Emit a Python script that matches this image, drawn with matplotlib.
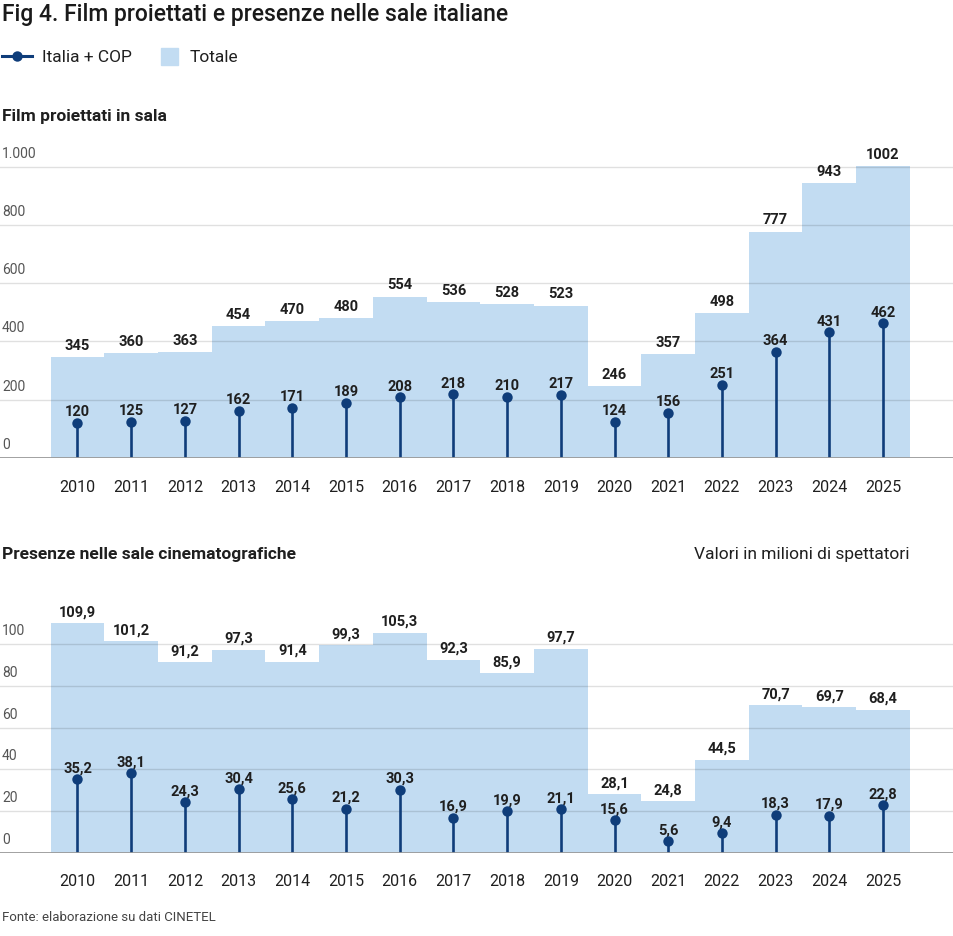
import matplotlib
matplotlib.use("Agg")
import matplotlib.pyplot as plt
from matplotlib.lines import Line2D
from matplotlib.patches import Rectangle

plt.rcParams['font.family'] = ['Roboto', 'DejaVu Sans']

years = ["2010", "2011", "2012", "2013", "2014", "2015", "2016", "2017",
         "2018", "2019", "2020", "2021", "2022", "2023", "2024", "2025"]
film_totale = [345, 360, 363, 454, 470, 480, 554, 536, 528, 523, 246, 357, 498, 777, 943, 1002]
film_italia = [120, 125, 127, 162, 171, 189, 208, 218, 210, 217, 124, 156, 251, 364, 431, 462]
pres_totale = [109.9, 101.2, 91.2, 97.3, 91.4, 99.3, 105.3, 92.3, 85.9, 97.7, 28.1, 24.8, 44.5, 70.7, 69.7, 68.4]
pres_italia = [35.2, 38.1, 24.3, 30.4, 25.6, 21.2, 30.3, 16.9, 19.9, 21.1, 15.6, 5.6, 9.4, 18.3, 17.9, 22.8]
film_ticks = [0, 200, 400, 600, 800, 1000]
film_ticklabels = ["0", "200", "400", "600", "800", "1.000"]
pres_ticks = [0, 20, 40, 60, 80, 100]
pres_ticklabels = ["0", "20", "40", "60", "80", "100"]

W, H = 954, 937
BAR = '#c2dcf2'
DARK = '#0f3d7a'
TXT = '#1f1f1f'

fig = plt.figure(figsize=(W / 100, H / 100), dpi=100)

step = 53.7
x0 = 77.5
xlim = ((0 - x0) / step, (W - x0) / step)


def make_axes(base_px, top_px, px_per_unit, tot, ita, ticks, ticklabels, fmt, ylab_px):
    ax = fig.add_axes([0, (H - base_px) / H, 1, (base_px - top_px) / H])
    ax.set_xlim(*xlim)
    ax.set_ylim(0, (base_px - top_px) / px_per_unit)
    ax.axis('off')
    xs = list(range(len(years)))
    ax.bar(xs, tot, width=1.0, color=BAR, zorder=1, linewidth=0)
    for t, lab in zip(ticks, ticklabels):
        if t > 0:
            ax.axhline(t, color='black', alpha=0.12, lw=1, zorder=2)
        ax.annotate(lab, (0, t), xycoords=('axes fraction', 'data'),
                    xytext=(1.5, 5), textcoords='offset points',
                    ha='left', va='bottom', fontsize=10, color='#555555')
    ax.axhline(0, color='#9a9a9a', lw=1.3, zorder=5)
    ax.vlines(xs, 0, ita, color=DARK, lw=1.9, zorder=3)
    ax.plot(xs, ita, 'o', color=DARK, ms=7.5, zorder=4, mew=0)
    for x, t, i in zip(xs, tot, ita):
        ax.annotate(fmt(t), (x, t), xytext=(0, 5.8), textcoords='offset points',
                    ha='center', va='baseline', fontsize=10.5, fontweight='semibold', color=TXT)
        ax.annotate(fmt(i), (x, i), xytext=(0, 5.6), textcoords='offset points',
                    ha='center', va='baseline', fontsize=10.5, fontweight='semibold', color=TXT)
    for x, y in zip(xs, years):
        fig.text((x0 + x * step) / W, 1 - ylab_px / H, y, ha='center', va='center',
                 fontsize=11.5, color=TXT)
    return ax


make_axes(459, 142, 291.5 / 1000, film_totale, film_italia, film_ticks, film_ticklabels,
          lambda v: f"{v:d}", 487)
make_axes(854, 592, 2.09, pres_totale, pres_italia, pres_ticks, pres_ticklabels,
          lambda v: f"{v:.1f}".replace('.', ','), 882)

# Title and legend
fig.text(2 / W, 1 - 14 / H, "Fig 4. Film proiettati e presenze nelle sale italiane",
         ha='left', va='center', fontsize=16.5, fontweight='medium', color='#1a1a1a')
ly = 1 - 57 / H
fig.add_artist(Line2D([2 / W, 32 / W], [ly, ly], color=DARK, lw=2.2))
fig.add_artist(Line2D([17 / W], [ly], marker='o', color=DARK, ms=7.5, mew=0))
fig.text(42 / W, ly, "Italia + COP", ha='left', va='center', fontsize=12.5, color=TXT)
fig.add_artist(Rectangle((161 / W, ly - 8.5 / H), 17 / W, 17 / H, color=BAR,
                         transform=fig.transFigure))
fig.text(190 / W, ly, "Totale", ha='left', va='center', fontsize=12.5, color=TXT)

fig.text(2 / W, 1 - 117 / H, "Film proiettati in sala", ha='left', va='center',
         fontsize=12.5, fontweight='semibold', color=TXT)
fig.text(2 / W, 1 - 554 / H, "Presenze nelle sale cinematografiche", ha='left', va='center',
         fontsize=12.5, fontweight='semibold', color=TXT)
fig.text(910 / W, 1 - 554 / H, "Valori in milioni di spettatori", ha='right', va='center',
         fontsize=12.5, color=TXT)
fig.text(2 / W, 1 - 918 / H, "Fonte: elaborazione su dati CINETEL", ha='left', va='center',
         fontsize=9.5, color='#444444')

fig.savefig("out.png", dpi=100)
